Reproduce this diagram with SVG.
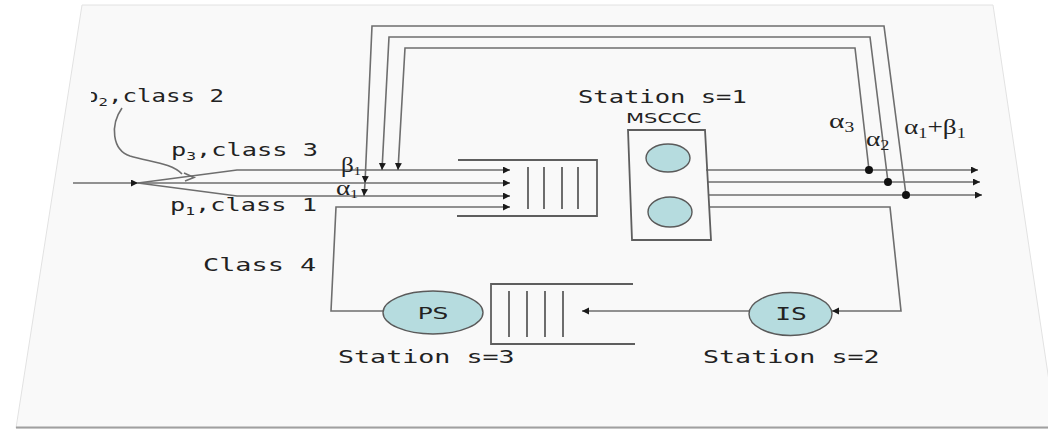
<svg xmlns="http://www.w3.org/2000/svg" width="1048" height="429" viewBox="0 0 1048 429">
<defs>
<style>
.ln{fill:none;stroke:#6e6e6e;stroke-width:1.6}
.q{fill:none;stroke:#5e5e5e;stroke-width:1.8}
.mono{font-family:"DejaVu Sans Mono","Liberation Mono",monospace;font-size:17px;fill:#222}
.sans{font-family:"DejaVu Sans","Liberation Sans",sans-serif;fill:#222}
.gr{font-family:"Liberation Serif","DejaVu Serif",serif;font-size:21px;fill:#222}
.el{fill:#b6dcdf;stroke:#5a5a5a;stroke-width:1.4}
.dot{fill:#111}
</style>
<marker id="ah" markerWidth="8" markerHeight="8" refX="7" refY="3.5" orient="auto" markerUnits="userSpaceOnUse">
<path d="M0,0 L7,3.5 L0,7z" fill="#1a1a1a"/>
</marker>
<clipPath id="cp2"><rect x="91" y="80" width="200" height="40"/></clipPath>
</defs>

<g id="slide">
<rect x="0" y="0" width="1048" height="429" fill="#ffffff"/>
<polygon points="82,5 993,5 1056,428 16,428" fill="#f9f9f9" stroke="#e2e2e2" stroke-width="1"/>
<line x1="16" y1="427.5" x2="1056" y2="427.5" stroke="#a0a0a0" stroke-width="2"/>
</g>

<g id="connectors">
<line class="ln" x1="73" y1="183" x2="138" y2="183" marker-end="url(#ah)"/>
<line class="ln" x1="138" y1="183" x2="510" y2="183" marker-end="url(#ah)"/>
<polyline class="ln" points="138,183 237,170 510,170" marker-end="url(#ah)"/>
<polyline class="ln" points="138,183 237,196 510,196" marker-end="url(#ah)"/>
<path class="ln" d="M122,108 C110,125 112,150 130,156 C150,162 172,163 182,174" stroke-width="1.1"/>
<path class="ln" d="M184,173 L194,177.5 L185,181" stroke-width="1.1"/>
<polyline class="ln" points="906,195 884,26 372,26 365,183" marker-end="url(#ah)"/>
<line class="ln" x1="365" y1="183" x2="364" y2="196" marker-end="url(#ah)"/>
<polyline class="ln" points="888,182 870,37 389,37 382,170" marker-end="url(#ah)"/>
<polyline class="ln" points="869,170 855,48 405,48 398,170" marker-end="url(#ah)"/>
<line class="ln" x1="706" y1="170" x2="978" y2="170" marker-end="url(#ah)"/>
<line class="ln" x1="707" y1="182" x2="980" y2="182" marker-end="url(#ah)"/>
<line class="ln" x1="708" y1="195" x2="982" y2="195" marker-end="url(#ah)"/>
<circle class="dot" cx="869" cy="170" r="4"/>
<circle class="dot" cx="888" cy="182" r="4"/>
<circle class="dot" cx="906" cy="195" r="4"/>
<polyline class="ln" points="709,207 890,207 901,311 832,311" marker-end="url(#ah)"/>
<line class="ln" x1="749" y1="311" x2="582" y2="311" marker-end="url(#ah)"/>
<polyline class="ln" points="383,311 331,311 336,207 510,207" marker-end="url(#ah)"/>
</g>

<g id="queue1">
<polyline class="q" points="458,160 597,160 597,216 457,216"/>
<line class="q" x1="528" y1="167" x2="528" y2="209"/>
<line class="q" x1="544" y1="167" x2="544" y2="209"/>
<line class="q" x1="562" y1="167" x2="562" y2="209"/>
<line class="q" x1="578" y1="167" x2="578" y2="209"/>
</g>

<g id="station1">
<polygon points="628,130 705,130 711,240 632,240" fill="none" stroke="#5e5e5e" stroke-width="1.8"/>
<ellipse class="el" cx="668" cy="158" rx="22" ry="14"/>
<ellipse class="el" cx="670" cy="212" rx="22" ry="15"/>
<text class="mono" transform="translate(578,103) scale(1.5,1)">Station s=1</text>
<text class="sans" font-size="14" transform="translate(626,123) scale(1.5,1)">MSCCC</text>
</g>

<g id="queue2">
<polyline class="q" points="633,284 491,284 491,344 635,344"/>
<line class="q" x1="509" y1="291" x2="509" y2="337"/>
<line class="q" x1="527" y1="291" x2="527" y2="337"/>
<line class="q" x1="545" y1="291" x2="545" y2="337"/>
<line class="q" x1="563" y1="291" x2="563" y2="337"/>
</g>

<g id="station3">
<ellipse class="el" cx="433" cy="312.5" rx="50" ry="21.5"/>
<text class="sans" font-size="16" text-anchor="middle" transform="translate(433,318.5) scale(1.55,1)">PS</text>
<text class="mono" transform="translate(338,363) scale(1.57,1)">Station s=3</text>
</g>

<g id="station2">
<ellipse class="el" cx="790.5" cy="314" rx="41.5" ry="21.5"/>
<text class="mono" font-size="16" text-anchor="middle" transform="translate(791,320) scale(1.55,1)">IS</text>
<text class="mono" transform="translate(703,363) scale(1.57,1)">Station s=2</text>
</g>

<g id="labels">
<g clip-path="url(#cp2)">
<text class="mono" transform="translate(84,102) scale(1.42,1)">p<tspan font-size="11" dy="4">2</tspan><tspan dy="-4">,class 2</tspan></text>
</g>
<text class="mono" transform="translate(171,156) scale(1.49,1)">p<tspan font-size="11" dy="4">3</tspan><tspan dy="-4">,class 3</tspan></text>
<text class="mono" transform="translate(170,211) scale(1.49,1)">p<tspan font-size="11" dy="4">1</tspan><tspan dy="-4">,class 1</tspan></text>
<text class="mono" transform="translate(203,271) scale(1.58,1)">Class 4</text>
<text class="gr" font-size="18" transform="translate(341,172) scale(1.2,1)">β<tspan font-size="12" dy="3">1</tspan></text>
<text class="gr" font-size="18" transform="translate(336,195) scale(1.3,1)">α<tspan font-size="12" dy="3">1</tspan></text>
<text class="gr" transform="translate(829,128) scale(1.4,1)">α<tspan font-size="14" dy="4">3</tspan></text>
<text class="gr" transform="translate(866,146) scale(1.3,1)">α<tspan font-size="14" dy="4">2</tspan></text>
<text class="gr" transform="translate(904,134) scale(1.3,1)">α<tspan font-size="14" dy="4">1</tspan><tspan dy="-4">+β</tspan><tspan font-size="14" dy="4">1</tspan></text>
</g>
</svg>
